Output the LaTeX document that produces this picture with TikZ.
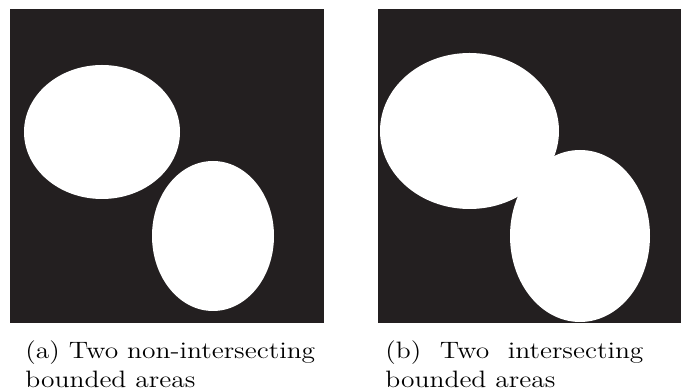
\documentclass[tikz,border=0pt]{standalone}
\definecolor{inkblack}{RGB}{35,31,32}
\newcommand\capsettings{\fontsize{13.5}{16.5}\selectfont
  \tolerance=10000\relax \hyphenpenalty=10000\relax \exhyphenpenalty=10000\relax}
\begin{document}
\begin{tikzpicture}[x=0.02cm, y=0.02cm,
  panel/.style={fill=inkblack},
  blob/.style={fill=white},
  subcap/.style={anchor=north west, inner sep=0pt, xscale=1.16, align=justify,
    font=\capsettings}]
  \useasboundingbox (0,0) rectangle (681,392);
  % left panel: two separate areas
  \fill[panel] (10,69) rectangle (324,383);
  \fill[blob] (102,260) ellipse [x radius=78, y radius=67];
  \fill[blob] (213,156) ellipse [x radius=61, y radius=75];
  % right panel: the areas overlap
  \fill[panel] (378,69) rectangle (681,383);
  \fill[blob] (469.5,261) ellipse [x radius=89.5, y radius=78];
  \fill[blob] (580,156) ellipse [x radius=70, y radius=86];
  \node[subcap, text width=5.6cm] (capa) at (25,52) {(a) Two non-intersecting\\bounded areas};
  \node[subcap, text width=4.45cm] (capb) at (385,52) {(b) Two intersecting bounded areas};
\end{tikzpicture}
\end{document}
